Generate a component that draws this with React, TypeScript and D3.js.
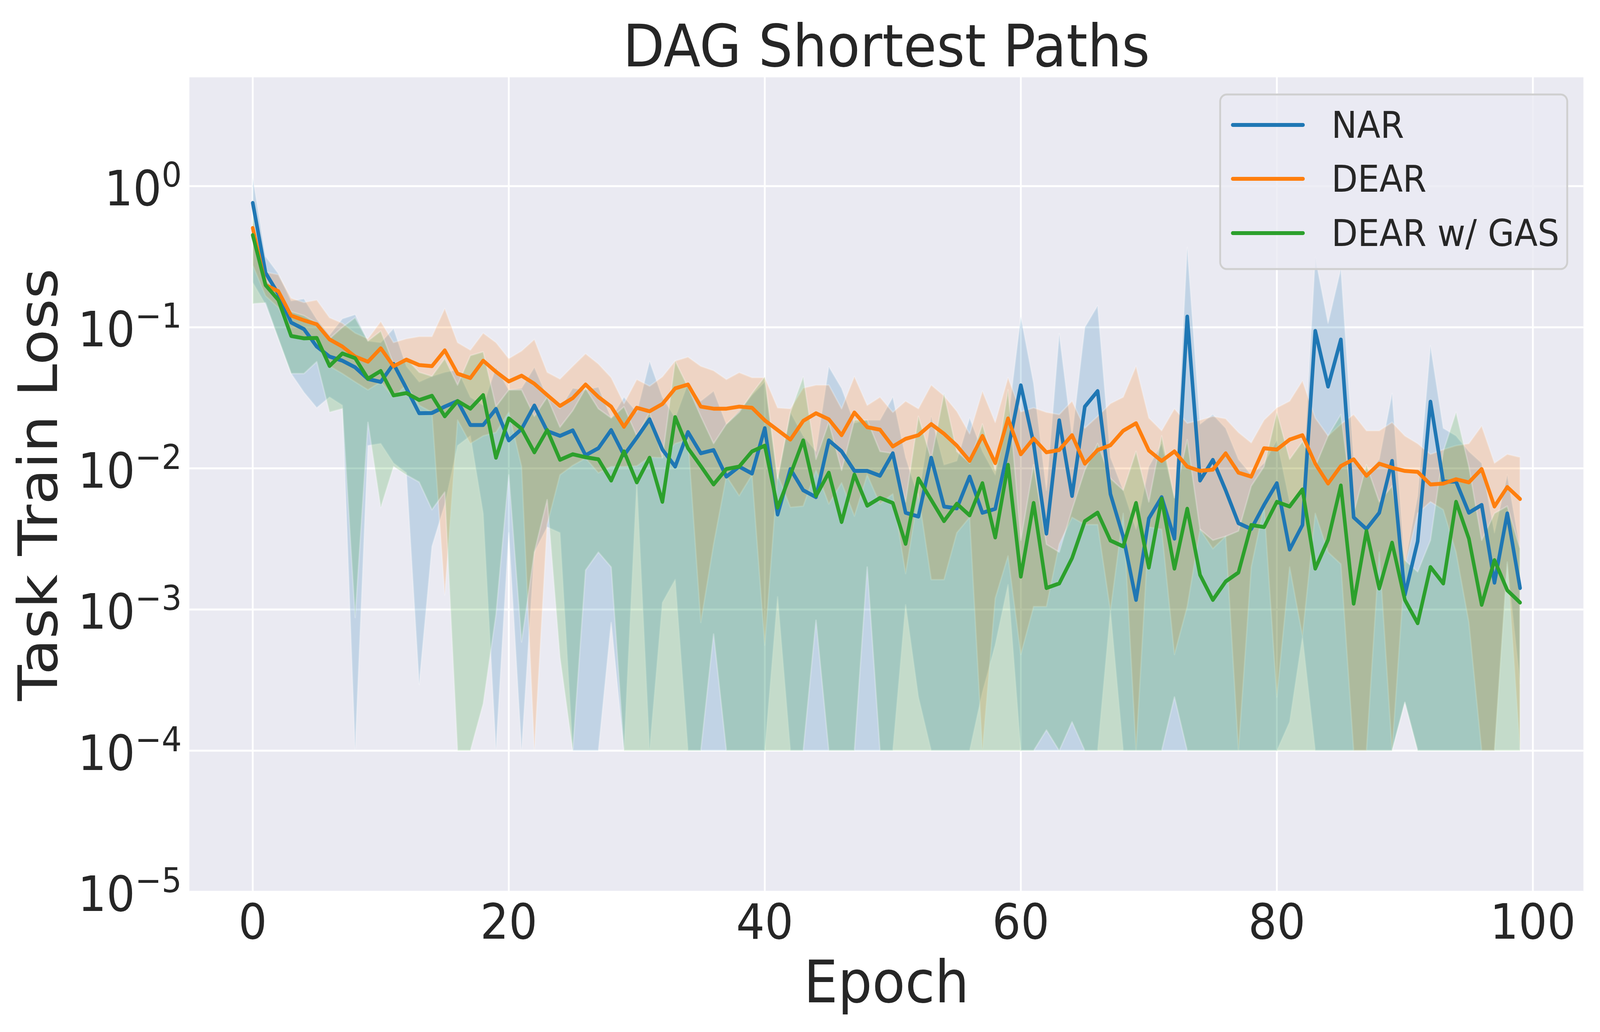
import React from "react";
import * as d3 from "d3";

const narMean = [0.76, 0.243, 0.172, 0.108, 0.097, 0.073, 0.062, 0.058, 0.052, 0.043,
  0.041, 0.055, 0.037, 0.0246, 0.0247, 0.0274, 0.030, 0.0203, 0.0203, 0.0264,
  0.0158, 0.019, 0.0279, 0.0184, 0.017, 0.0186, 0.0124, 0.0139, 0.0187, 0.0124,
  0.0165, 0.0223, 0.0136, 0.0103, 0.0181, 0.0128, 0.0135, 0.00875, 0.0103, 0.0092,
  0.0193, 0.00471, 0.0099, 0.0070, 0.00626, 0.0158, 0.0132, 0.0096, 0.0096, 0.00887,
  0.0128, 0.00485, 0.00456, 0.0119, 0.00537, 0.00521, 0.00875, 0.00485, 0.00517, 0.0136,
  0.0388, 0.0150, 0.00345, 0.0219, 0.00638, 0.0274, 0.0353, 0.00658, 0.00328, 0.00117,
  0.00442, 0.00626, 0.00318, 0.119, 0.0082, 0.0115, 0.0070, 0.00409, 0.00372, 0.00551,
  0.00786, 0.00266, 0.00397, 0.0942, 0.0380, 0.0819, 0.0045, 0.00372, 0.00485, 0.0113,
  0.00127, 0.00304, 0.0297, 0.00806, 0.00806, 0.00485, 0.00551, 0.00155, 0.0048, 0.00142];

const narUpper = [1.15, 0.318, 0.24, 0.154, 0.159, 0.114, 0.088, 0.115, 0.123, 0.080,
  0.078, 0.098, 0.053, 0.041, 0.045, 0.048, 0.05, 0.032, 0.028, 0.052,
  0.036, 0.037, 0.052, 0.032, 0.0265, 0.037, 0.036, 0.0377, 0.0228, 0.032,
  0.025, 0.0574, 0.032, 0.0228, 0.0401, 0.030, 0.0353, 0.0206, 0.0257, 0.0331,
  0.041, 0.0082, 0.025, 0.017, 0.0132, 0.0526, 0.037, 0.021, 0.022, 0.022,
  0.032, 0.012, 0.0062, 0.0234, 0.0106, 0.0113, 0.0228, 0.0132, 0.009, 0.022,
  0.119, 0.040, 0.007, 0.090, 0.017, 0.10, 0.142, 0.012, 0.007, 0.0037,
  0.0103, 0.015, 0.0062, 0.367, 0.0206, 0.0241, 0.0193, 0.0116, 0.009, 0.0109,
  0.0158, 0.0058, 0.007, 0.314, 0.107, 0.26, 0.0116, 0.009, 0.0116, 0.034,
  0.0021, 0.0064, 0.074, 0.0193, 0.017, 0.0132, 0.0109, 0.0035, 0.009, 0.0027];

const narLower = [0.208, 0.145, 0.083, 0.047, 0.0346, 0.0269, 0.032, 0.028, 1e-4, 0.0145,
  0.015, 0.0109, 0.0093, 0.000295, 0.0028, 0.00555, 0.0145, 0.017, 0.0048, 1e-4,
  0.0035, 1e-4, 0.00255, 0.00384, 0.0035, 1e-4, 1e-4, 1e-4, 0.00081, 1e-4,
  0.008, 1e-4, 0.00112, 0.00163, 1e-4, 1e-4, 1e-4, 1e-4, 1e-4, 1e-4,
  1e-4, 0.00123, 1e-4, 1e-4, 1e-4, 1e-4, 1e-4, 1e-4, 1e-4, 1e-4,
  1e-4, 0.00108, 0.00024, 1e-4, 1e-4, 1e-4, 1e-4, 0.00026, 0.00056, 0.0015,
  1e-4, 1e-4, 1e-4, 1e-4, 1e-4, 1e-4, 1e-4, 0.00098, 1e-4, 1e-4,
  1e-4, 1e-4, 1e-4, 1e-4, 1e-4, 1e-4, 1e-4, 1e-4, 1e-4, 1e-4,
  1e-4, 0.00016, 0.00064, 1e-4, 1e-4, 1e-4, 1e-4, 1e-4, 1e-4, 1e-4,
  0.00022, 1e-4, 1e-4, 1e-4, 1e-4, 1e-4, 1e-4, 1e-4, 0.0021, 0.0003];

const dearMean = [0.505, 0.199, 0.18, 0.121, 0.112, 0.105, 0.082, 0.073, 0.062, 0.057,
  0.071, 0.053, 0.059, 0.054, 0.053, 0.0686, 0.0469, 0.0437, 0.058, 0.0484,
  0.0413, 0.0454, 0.0398, 0.0331, 0.0277, 0.0315, 0.0393, 0.0321, 0.0274, 0.0197,
  0.0269, 0.0254, 0.0286, 0.0369, 0.0393, 0.0274, 0.0265, 0.0265, 0.0274, 0.0269,
  0.0219, 0.0187, 0.0160, 0.0217, 0.0246, 0.0223, 0.0172, 0.0249, 0.0196, 0.0188,
  0.0143, 0.0162, 0.0172, 0.0206, 0.0176, 0.0145, 0.0113, 0.0170, 0.0109, 0.0226,
  0.0126, 0.0163, 0.0130, 0.0135, 0.0172, 0.0108, 0.0135, 0.0146, 0.0185, 0.0209,
  0.0134, 0.0113, 0.0132, 0.0103, 0.0096, 0.0098, 0.0128, 0.00933, 0.00875, 0.0139,
  0.0136, 0.0160, 0.0172, 0.0108, 0.00781, 0.0104, 0.0116, 0.00887, 0.0108, 0.0101,
  0.0096, 0.00945, 0.0077, 0.00781, 0.00838, 0.00796, 0.0099, 0.00537, 0.00738, 0.00607];

const dearUpper = [0.57, 0.246, 0.236, 0.161, 0.15, 0.156, 0.117, 0.107, 0.091, 0.083,
  0.11, 0.078, 0.083, 0.086, 0.086, 0.136, 0.078, 0.069, 0.091, 0.078,
  0.06, 0.068, 0.082, 0.048, 0.043, 0.053, 0.065, 0.055, 0.044, 0.0288,
  0.0427, 0.0383, 0.0446, 0.0578, 0.0616, 0.053, 0.0493, 0.0427, 0.0478, 0.044,
  0.044, 0.0269, 0.0265, 0.0371, 0.039, 0.039, 0.0265, 0.0448, 0.028, 0.032,
  0.025, 0.030, 0.0265, 0.039, 0.0327, 0.0254, 0.0176, 0.0353, 0.0212, 0.044,
  0.0252, 0.0269, 0.025, 0.0241, 0.030, 0.0193, 0.0234, 0.0288, 0.032, 0.053,
  0.0228, 0.0185, 0.0265, 0.0209, 0.022, 0.0234, 0.0225, 0.018, 0.0152, 0.022,
  0.0269, 0.030, 0.0418, 0.0228, 0.017, 0.0206, 0.0241, 0.0185, 0.0185, 0.0212,
  0.017, 0.015, 0.0126, 0.0136, 0.0145, 0.015, 0.020, 0.0109, 0.0126, 0.012];

const dearLower = [0.276, 0.167, 0.138, 0.088, 0.083, 0.078, 0.053, 0.047, 0.041, 0.036,
  0.041, 0.032, 0.039, 0.028, 0.025, 0.00127, 0.022, 0.015, 0.017, 0.018,
  0.025, 0.0103, 1e-4, 0.004, 0.009, 0.0105, 0.0118, 0.0093, 0.0103, 0.0103,
  0.0104, 0.012, 0.0119, 0.015, 0.016, 0.00081, 0.0029, 0.0088, 0.0064, 0.009,
  0.00056, 0.009, 0.0053, 0.0054, 0.0097, 0.0056, 0.0079, 0.0046, 0.009, 0.0056,
  0.0066, 0.0018, 0.0066, 0.00163, 0.00163, 0.0035, 0.0045, 1e-4, 0.0012, 0.0024,
  0.00048, 0.00105, 0.00105, 0.0029, 0.0045, 0.004, 0.004, 0.00098, 0.0048, 1e-4,
  0.00384, 0.0037, 0.00048, 0.00105, 0.0037, 0.0027, 0.0033, 1e-4, 0.002, 0.0054,
  0.00024, 0.002, 0.00065, 0.0048, 0.00255, 0.0021, 1e-4, 1e-4, 0.00255, 1e-4,
  0.002, 0.0048, 0.0058, 0.0051, 0.00255, 0.00081, 1e-4, 1e-4, 0.00217, 1e-4];

const gasMean = [0.45, 0.199, 0.156, 0.0867, 0.0835, 0.084, 0.0532, 0.0652, 0.0604, 0.0432,
  0.049, 0.0329, 0.0342, 0.0305, 0.0327, 0.0234, 0.030, 0.0265, 0.0331, 0.0119,
  0.0226, 0.0191, 0.0130, 0.0187, 0.0115, 0.0126, 0.0120, 0.0116, 0.0082, 0.0132,
  0.00796, 0.0119, 0.0058, 0.0231, 0.0139, 0.0104, 0.0077, 0.0099, 0.0103, 0.0132,
  0.0145, 0.00527, 0.00904, 0.0158, 0.00638, 0.00933, 0.00417, 0.00904, 0.00544, 0.00618,
  0.00569, 0.00292, 0.00848, 0.00598, 0.00423, 0.00562, 0.00465, 0.00786, 0.00324, 0.0106,
  0.00171, 0.00569, 0.00142, 0.00153, 0.00231, 0.00423, 0.00486, 0.00308, 0.0028, 0.00569,
  0.00198, 0.0061, 0.00195, 0.00518, 0.00176, 0.00117, 0.00158, 0.00183, 0.00397, 0.00384,
  0.0058, 0.00537, 0.0071, 0.00195, 0.00312, 0.00757, 0.0011, 0.0036, 0.00141, 0.00298,
  0.00117, 0.0008, 0.002, 0.00153, 0.0058, 0.00318, 0.00108, 0.00224, 0.00137, 0.00112];

const gasUpper = [0.62, 0.215, 0.177, 0.129, 0.121, 0.107, 0.083, 0.10, 0.117, 0.080,
  0.094, 0.055, 0.060, 0.048, 0.045, 0.060, 0.039, 0.063, 0.067, 0.0274,
  0.036, 0.036, 0.0234, 0.032, 0.0196, 0.0257, 0.037, 0.0265, 0.0228, 0.0274,
  0.017, 0.025, 0.0119, 0.0578, 0.0377, 0.0234, 0.015, 0.0206, 0.025, 0.034,
  0.0446, 0.0085, 0.025, 0.0446, 0.0116, 0.0212, 0.0097, 0.022, 0.022, 0.0132,
  0.0128, 0.0058, 0.0234, 0.0116, 0.034, 0.0132, 0.0109, 0.0206, 0.0097, 0.036,
  0.0031, 0.0106, 0.0029, 0.00255, 0.0051, 0.0097, 0.015, 0.0085, 0.007, 0.0132,
  0.0058, 0.017, 0.0062, 0.016, 0.0037, 0.0031, 0.0033, 0.0036, 0.0075, 0.0103,
  0.025, 0.0116, 0.0155, 0.0103, 0.017, 0.0241, 0.0048, 0.0106, 0.0058, 0.0075,
  0.00224, 0.00185, 0.0031, 0.0132, 0.025, 0.0103, 0.0031, 0.0048, 0.0054, 0.0027];

const gasLower = [0.147, 0.149, 0.083, 0.047, 0.047, 0.057, 0.025, 0.0265, 0.00088, 0.0212,
  0.00527, 0.0103, 0.009, 0.008, 0.0051, 0.0068, 1e-4, 1e-4, 0.000215, 0.00092,
  0.009, 0.00059, 0.00255, 0.006, 0.00046, 1e-4, 0.0019, 0.00255, 0.002, 1e-4,
  1e-4, 1e-4, 1e-4, 1e-4, 1e-4, 1e-4, 0.00067, 1e-4, 1e-4, 1e-4,
  1e-4, 1e-4, 1e-4, 1e-4, 0.00084, 1e-4, 1e-4, 1e-4, 0.002, 1e-4,
  1e-4, 1e-4, 1e-4, 1e-4, 1e-4, 1e-4, 1e-4, 1e-4, 1e-4, 1e-4,
  1e-4, 1e-4, 0.00014, 1e-4, 0.00016, 1e-4, 1e-4, 1e-4, 1e-4, 1e-4,
  1e-4, 1e-4, 0.00024, 1e-4, 1e-4, 1e-4, 1e-4, 1e-4, 1e-4, 1e-4,
  1e-4, 1e-4, 1e-4, 1e-4, 1e-4, 1e-4, 1e-4, 1e-4, 1e-4, 1e-4,
  0.00022, 1e-4, 1e-4, 1e-4, 1e-4, 1e-4, 1e-4, 1e-4, 1e-4, 1e-4];

const seriesNames = ["NAR", "DEAR", "DEAR w/ GAS"];
const seriesColors = ["#1f77b4", "#ff7f0e", "#2ca02c"];
const xTicks = [0, 20, 40, 60, 80, 100];
const yTickExps = [0, -1, -2, -3, -4, -5];

const W = 4444;
const H = 2643;
const L = 526, R = 4398, T = 198, B = 2284;
const FONT = "'DejaVu Sans', Verdana, sans-serif";
const TEXT = "#262626";

export default function App() {
  const vw = typeof window !== "undefined" ? window.innerWidth : W;
  const vh = typeof window !== "undefined" ? window.innerHeight : H;
  const outW = Math.min(W, vw);
  const outH = Math.min(H, vh);

  const x = d3.scaleLinear().domain([-4.95, 103.95]).range([L, R]);
  const y = d3.scaleLog().domain([1e-5, Math.pow(10, 0.771)]).range([B, T]);

  const series = [
    { name: seriesNames[0], color: seriesColors[0], mean: narMean, lo: narLower, hi: narUpper },
    { name: seriesNames[1], color: seriesColors[1], mean: dearMean, lo: dearLower, hi: dearUpper },
    { name: seriesNames[2], color: seriesColors[2], mean: gasMean, lo: gasLower, hi: gasUpper },
  ];

  const lineGen = d3.line<number>().x((_, i) => x(i)).y((d) => y(d));

  return (
    <svg width={outW} height={outH} viewBox={`0 0 ${W} ${H}`} preserveAspectRatio="none"
      style={{ position: "absolute", left: 0, top: 0, display: "block", background: "#ffffff" }}
      fontFamily={FONT}>
      <defs>
        <clipPath id="plotclip">
          <rect x={L} y={T} width={R - L} height={B - T} />
        </clipPath>
      </defs>
      <rect x={0} y={0} width={W} height={H} fill="#ffffff" />
      <rect x={L} y={T} width={R - L} height={B - T} fill="#eaeaf2" />
      {xTicks.map((t) => (
        <line key={"gx" + t} x1={x(t)} x2={x(t)} y1={T} y2={B} stroke="#ffffff" strokeWidth={5} />
      ))}
      {yTickExps.map((e) => (
        <line key={"gy" + e} x1={L} x2={R} y1={y(Math.pow(10, e))} y2={y(Math.pow(10, e))} stroke="#ffffff" strokeWidth={5} />
      ))}
      <g clipPath="url(#plotclip)">
        {series.map((s) => {
          const area = d3.area<number>()
            .x((_, i) => x(i))
            .y0((_, i) => y(s.lo[i]))
            .y1((_, i) => y(s.hi[i]));
          return (
            <path key={"a" + s.name} d={area(s.mean) || ""} fill={s.color} fillOpacity={0.2}
              stroke="#ffffff" strokeOpacity={0.25} strokeWidth={4} strokeLinejoin="round" />
          );
        })}
        {series.map((s) => (
          <path key={"l" + s.name} d={lineGen(s.mean) || ""} fill="none" stroke={s.color}
            strokeWidth={10} strokeLinejoin="round" strokeLinecap="round" />
        ))}
      </g>
      {xTicks.map((t) => (
        <text key={"tx" + t} x={x(t)} y={2404} textAnchor="middle" fontSize={125} fill={TEXT}>{t}</text>
      ))}
      {yTickExps.map((e) => (
        <text key={"ty" + e} x={505} y={y(Math.pow(10, e)) + 49} textAnchor="end" fontSize={125} fill={TEXT}>
          10<tspan dy={-48} fontSize={88}>{e === 0 ? "0" : "\u2212" + Math.abs(e)}</tspan>
        </text>
      ))}
      <text x={(L + R) / 2} y={170} textAnchor="middle" fontSize={150} fill={TEXT}>DAG Shortest Paths</text>
      <text x={(L + R) / 2} y={2567} textAnchor="middle" fontSize={150} fill={TEXT}>Epoch</text>
      <text transform={`translate(158, ${(T + B) / 2}) rotate(-90)`} textAnchor="middle" fontSize={150} fill={TEXT}>Task Train Loss</text>
      <g>
        <rect x={3389} y={242} width={964} height={447} rx={18} ry={18} fill="#eaeaf2" fillOpacity={0.8}
          stroke="#cfcfcf" strokeWidth={5} />
        {series.map((s, i) => {
          const ly = [320, 458, 597][i];
          return (
            <g key={"lg" + s.name}>
              <line x1={3424} x2={3619} y1={ly} y2={ly} stroke={s.color} strokeWidth={10} strokeLinecap="round" />
              <text x={3698} y={ly + 33} fontSize={95} fill={TEXT}>{s.name}</text>
            </g>
          );
        })}
      </g>
    </svg>
  );
}
